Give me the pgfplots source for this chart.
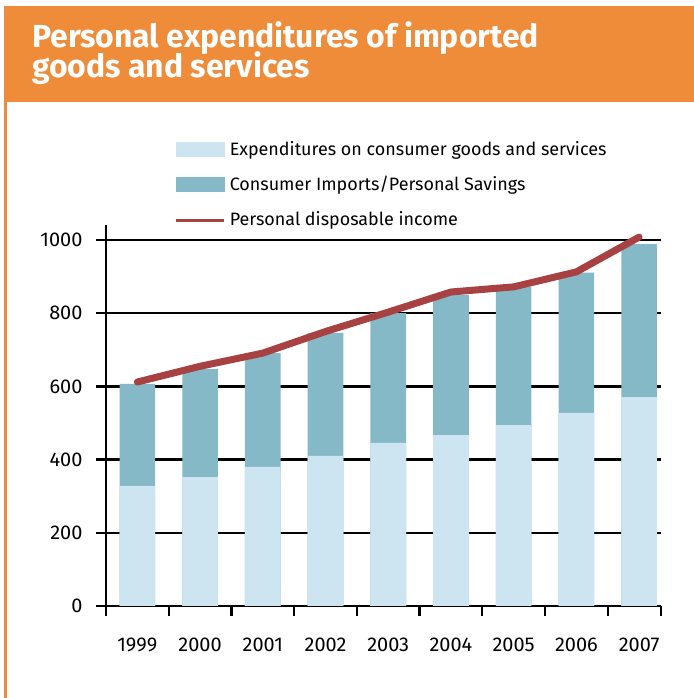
\documentclass[border=0pt]{standalone}
\usepackage{fontspec}
\setmainfont{Fira Sans}
\usepackage{pgfplots}
\pgfplotsset{compat=1.18}
\definecolor{orng}{HTML}{EE8C3A}
\definecolor{lightb}{HTML}{CDE5F1}
\definecolor{tealb}{HTML}{86B9C8}
\definecolor{redl}{HTML}{A84242}
\begin{document}
\begin{tikzpicture}
\path[use as bounding box] (0bp,0bp) rectangle (694bp,698bp);
\fill[orng] (4bp,596bp) rectangle (694bp,692bp);
\fill[orng] (4bp,0bp) rectangle (6.8bp,692bp);
\node[anchor=base west, inner sep=0pt, text=white, font=\fontsize{32}{38}\selectfont\bfseries] at (32bp,650.7bp) {Personal expenditures of imported};
\node[anchor=base west, inner sep=0pt, text=white, font=\fontsize{32}{38}\selectfont\bfseries] at (32bp,620bp) {goods and services};
\begin{axis}[
  at={(106bp,92bp)}, anchor=south west,
  scale only axis, width=555.3bp, height=380.6bp,
  xmin=-0.5, xmax=8.354, ymin=0, ymax=1040,
  axis x line=bottom, axis y line=left,
  x axis line style={-, line width=2.7bp},
  y axis line style={-, line width=2.7bp},
  xtick={-0.5,0.5,1.5,2.5,3.5,4.5,5.5,6.5,7.5,8.354},
  xticklabels={},
  extra x ticks={0,1,2,3,4,5,6,7,8},
  extra x tick labels={1999,2000,2001,2002,2003,2004,2005,2006,2007},
  extra x tick style={major tick length=0pt, grid=none, tick label style={yshift=-28bp}},
  ytick={0,200,400,600,800,1000},
  yticklabels={0,200,400,600,800,1000},
  yticklabel style={xshift=-10bp},
  ymajorgrids,
  grid style={black, line width=2.3bp},
  tick style={black, line width=2.3bp},
  major tick length=10bp, tick align=outside,
  tick label style={font=\fontsize{20}{24}\selectfont},
  legend style={at={(0.1188,1.2244)}, anchor=north west, draw=none, fill=none,
    font=\fontsize{18}{22}\selectfont, row sep=18bp,
    nodes={inner ysep=0pt, inner xsep=4bp, text height=13bp, text depth=4bp}},
  legend cell align=left,
]
\addlegendimage{legend image code/.code={\fill[lightb] (0bp,-5.5bp) rectangle (48bp,8.2bp);}}
\addlegendentry{Expenditures on consumer goods and services}
\addlegendimage{legend image code/.code={\fill[tealb] (0bp,-5.5bp) rectangle (48bp,8.2bp);}}
\addlegendentry{Consumer Imports/Personal Savings}
\addlegendimage{legend image code/.code={\draw[redl, line width=2.6bp] (0bp,0bp) -- (48bp,0bp);}}
\addlegendentry{Personal disposable income}
% total (teal, includes light part)
\addplot[ybar, bar width=35.6bp, bar shift=0pt, fill=tealb, draw=none, forget plot] coordinates {
 (0,607) (1,648) (2,691) (3,746) (4,800) (5,850) (6,872) (7,911) (8,989)};
% expenditures on consumer goods and services
\addplot[ybar, bar width=35.6bp, bar shift=0pt, fill=lightb, draw=none, forget plot] coordinates {
 (0,328) (1,352) (2,380) (3,410) (4,446) (5,467) (6,494) (7,528) (8,571)};
% personal disposable income
\addplot[sharp plot, redl, line width=7bp, line join=round, line cap=round, mark=none, forget plot] coordinates {
 (0,612) (1,655) (2,691) (3,750) (4,803) (5,858) (6,872) (7,913) (8,1008)};
\end{axis}
\end{tikzpicture}
\end{document}
